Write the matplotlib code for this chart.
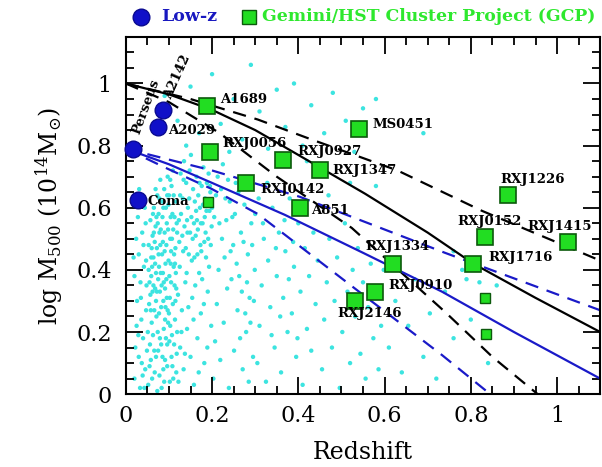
import matplotlib
matplotlib.use("Agg")
import matplotlib.pyplot as plt
from matplotlib.ticker import MultipleLocator

plt.rcParams["font.family"] = "DejaVu Serif"
plt.rcParams["mathtext.fontset"] = "dejavuserif"

# field clusters (cyan cloud), (redshift, log M500)
field_pts = [
    # z ~ 0.02-0.05
    (0.02, 0.05), (0.03, 0.12), (0.025, 0.22), (0.04, 0.18), (0.035, 0.31), (0.045, 0.08),
    (0.02, 0.38), (0.03, 0.45), (0.042, 0.41), (0.038, 0.52), (0.028, 0.57), (0.047, 0.27),
    (0.022, 0.15), (0.033, 0.02), (0.048, 0.35), (0.041, 0.48), (0.026, 0.3), (0.036, 0.24),
    (0.044, 0.6), (0.031, 0.66), (0.018, 0.44), (0.049, 0.14), (0.039, 0.06), (0.046, 0.55),
    (0.024, 0.5), (0.034, 0.36), (0.043, 0.02), (0.029, 0.19), (0.037, 0.1), (0.047, 0.43),
    # z ~ 0.05-0.12 (densest)
    (0.052, 0.03), (0.058, 0.11), (0.063, 0.19), (0.067, 0.07), (0.071, 0.25), (0.075, 0.14),
    (0.079, 0.33), (0.083, 0.02), (0.088, 0.21), (0.092, 0.28), (0.096, 0.09), (0.101, 0.17),
    (0.105, 0.36), (0.11, 0.05), (0.114, 0.24), (0.118, 0.13),
    (0.054, 0.29), (0.059, 0.38), (0.064, 0.44), (0.068, 0.34), (0.072, 0.47), (0.077, 0.41),
    (0.081, 0.53), (0.086, 0.39), (0.09, 0.46), (0.095, 0.55), (0.099, 0.43), (0.103, 0.5),
    (0.108, 0.58), (0.112, 0.45), (0.116, 0.62), (0.119, 0.52),
    (0.056, 0.16), (0.061, 0.05), (0.066, 0.27), (0.07, 0.12), (0.074, 0.2), (0.078, 0.06),
    (0.082, 0.16), (0.087, 0.3), (0.091, 0.11), (0.094, 0.37), (0.098, 0.23), (0.102, 0.31),
    (0.107, 0.19), (0.111, 0.41), (0.115, 0.3), (0.117, 0.07),
    (0.053, 0.48), (0.057, 0.56), (0.062, 0.51), (0.065, 0.6), (0.069, 0.54), (0.073, 0.64),
    (0.076, 0.58), (0.08, 0.69), (0.084, 0.62), (0.089, 0.66), (0.093, 0.6), (0.097, 0.7),
    (0.1, 0.64), (0.106, 0.67), (0.109, 0.72), (0.113, 0.57),
    (0.055, 0.09), (0.06, 0.23), (0.064, 0.35), (0.068, 0.42), (0.073, 0.01), (0.077, 0.26),
    (0.081, 0.39), (0.085, 0.12), (0.089, 0.04), (0.093, 0.18), (0.097, 0.27), (0.102, 0.04),
    (0.106, 0.12), (0.109, 0.29), (0.113, 0.35), (0.119, 0.2),
    (0.051, 0.2), (0.057, 0.32), (0.061, 0.41), (0.066, 0.14), (0.07, 0.3), (0.075, 0.37),
    (0.079, 0.18), (0.084, 0.45), (0.087, 0.08), (0.091, 0.34), (0.096, 0.16), (0.1, 0.26),
    (0.104, 0.42), (0.108, 0.09), (0.112, 0.16), (0.116, 0.39),
    (0.06, 0.47), (0.065, 0.52), (0.07, 0.39), (0.074, 0.55), (0.08, 0.48), (0.085, 0.57),
    (0.09, 0.52), (0.094, 0.48), (0.099, 0.61), (0.104, 0.57), (0.107, 0.5), (0.111, 0.64),
    (0.115, 0.47), (0.118, 0.55),
    (0.053, 0.4), (0.058, 0.27), (0.062, 0.33), (0.067, 0.49), (0.071, 0.57), (0.076, 0.45),
    (0.078, 0.52), (0.082, 0.28), (0.086, 0.49), (0.088, 0.36), (0.092, 0.42), (0.095, 0.31),
    (0.098, 0.53), (0.101, 0.38), (0.105, 0.46), (0.11, 0.53), (0.114, 0.42), (0.117, 0.34),
    (0.063, 0.58), (0.069, 0.66), (0.078, 0.63), (0.087, 0.6), (0.096, 0.64), (0.103, 0.69),
    (0.055, 0.36), (0.059, 0.44), (0.072, 0.33), (0.083, 0.35), (0.091, 0.24), (0.103, 0.22),
    # z ~ 0.12-0.2
    (0.122, 0.04), (0.126, 0.15), (0.13, 0.27), (0.134, 0.08), (0.138, 0.36), (0.142, 0.21),
    (0.146, 0.45), (0.15, 0.12), (0.154, 0.31), (0.158, 0.03), (0.162, 0.51), (0.166, 0.18),
    (0.17, 0.39), (0.174, 0.26), (0.178, 0.55), (0.182, 0.1), (0.186, 0.44), (0.19, 0.33),
    (0.194, 0.59), (0.198, 0.22),
    (0.124, 0.49), (0.128, 0.58), (0.132, 0.63), (0.136, 0.54), (0.14, 0.68), (0.144, 0.6),
    (0.148, 0.72), (0.152, 0.57), (0.156, 0.66), (0.16, 0.62), (0.164, 0.7), (0.168, 0.64),
    (0.172, 0.6), (0.176, 0.67), (0.18, 0.73), (0.184, 0.63), (0.188, 0.68), (0.192, 0.71),
    (0.196, 0.65), (0.2, 0.6),
    (0.121, 0.32), (0.125, 0.41), (0.129, 0.2), (0.133, 0.46), (0.137, 0.13), (0.141, 0.39),
    (0.145, 0.28), (0.149, 0.52), (0.153, 0.43), (0.157, 0.24), (0.161, 0.35), (0.165, 0.56),
    (0.169, 0.07), (0.173, 0.48), (0.177, 0.37), (0.181, 0.29), (0.185, 0.52), (0.189, 0.15),
    (0.193, 0.41), (0.197, 0.48),
    (0.127, 0.71), (0.135, 0.75), (0.143, 0.52), (0.151, 0.77), (0.159, 0.44), (0.167, 0.53),
    (0.175, 0.46), (0.183, 0.57), (0.191, 0.5), (0.199, 0.54),
    (0.123, 0.56), (0.131, 0.51), (0.139, 0.47), (0.147, 0.63), (0.155, 0.5), (0.163, 0.59),
    (0.171, 0.68), (0.179, 0.61), (0.187, 0.59), (0.195, 0.67), (0.126, 0.64), (0.134, 0.69),
    (0.142, 0.56), (0.158, 0.55), (0.166, 0.45), (0.174, 0.55), (0.182, 0.49), (0.19, 0.62),
    # z ~ 0.2-0.3
    (0.203, 0.05), (0.207, 0.17), (0.211, 0.29), (0.215, 0.4), (0.219, 0.11), (0.223, 0.5),
    (0.227, 0.23), (0.231, 0.63), (0.235, 0.34), (0.239, 0.02), (0.243, 0.46), (0.247, 0.57),
    (0.251, 0.14), (0.255, 0.68), (0.259, 0.27), (0.263, 0.38), (0.267, 0.52), (0.271, 0.08),
    (0.275, 0.61), (0.279, 0.2), (0.283, 0.45), (0.287, 0.31), (0.291, 0.55), (0.295, 0.12),
    (0.299, 0.4), (0.205, 0.57), (0.209, 0.64), (0.213, 0.7), (0.217, 0.55), (0.221, 0.66),
    (0.225, 0.74), (0.229, 0.44), (0.233, 0.56), (0.237, 0.69), (0.241, 0.62), (0.245, 0.37),
    (0.249, 0.48), (0.253, 0.58), (0.257, 0.42), (0.261, 0.65), (0.265, 0.18), (0.269, 0.33),
    (0.273, 0.49), (0.277, 0.26), (0.281, 0.36), (0.285, 0.04), (0.289, 0.23), (0.293, 0.48),
    (0.297, 0.3), (0.3, 0.58),
    # z ~ 0.3-0.45
    (0.305, 0.1), (0.31, 0.22), (0.315, 0.35), (0.32, 0.5), (0.325, 0.04), (0.33, 0.43),
    (0.335, 0.28), (0.34, 0.6), (0.345, 0.15), (0.35, 0.38), (0.355, 0.52), (0.36, 0.07),
    (0.365, 0.31), (0.37, 0.46), (0.375, 0.2), (0.38, 0.63), (0.385, 0.26), (0.39, 0.41),
    (0.395, 0.12), (0.4, 0.55), (0.405, 0.33), (0.41, 0.03), (0.415, 0.47), (0.42, 0.21),
    (0.425, 0.38), (0.43, 0.14), (0.435, 0.52), (0.44, 0.29), (0.445, 0.43), (0.308, 0.63),
    (0.318, 0.55), (0.328, 0.68), (0.338, 0.19), (0.348, 0.47), (0.358, 0.25), (0.368, 0.56),
    (0.378, 0.37), (0.388, 0.49), (0.398, 0.18), (0.418, 0.58),
    # z ~ 0.45-0.6
    (0.455, 0.08), (0.46, 0.24), (0.466, 0.36), (0.472, 0.5), (0.478, 0.15), (0.484, 0.3),
    (0.49, 0.44), (0.496, 0.02), (0.502, 0.2), (0.508, 0.55), (0.514, 0.33), (0.52, 0.1),
    (0.526, 0.4), (0.532, 0.25), (0.538, 0.47), (0.544, 0.13), (0.55, 0.36), (0.556, 0.05),
    (0.562, 0.28), (0.568, 0.42), (0.574, 0.18), (0.58, 0.34), (0.586, 0.08), (0.592, 0.22),
    (0.598, 0.4),
    # z ~ 0.6-0.86
    (0.61, 0.15), (0.625, 0.3), (0.64, 0.07), (0.655, 0.22), (0.67, 0.37), (0.69, 0.12),
    (0.705, 0.26), (0.72, 0.05), (0.74, 0.33), (0.76, 0.18), (0.78, 0.4), (0.8, 0.24),
    (0.82, 0.36), (0.76, 0.46), (0.84, 0.1), (0.79, 0.37), (0.86, 0.35),
    # sparse high-mass points
    (0.09, 0.96), (0.12, 0.88), (0.15, 0.99), (0.17, 0.84), (0.2, 1.03), (0.22, 0.87),
    (0.25, 0.95), (0.27, 0.82), (0.29, 1.06), (0.31, 0.91), (0.33, 0.79), (0.35, 0.98),
    (0.37, 0.86), (0.39, 1.0), (0.41, 0.8), (0.43, 0.93), (0.46, 0.84), (0.48, 0.97),
    (0.51, 0.88), (0.53, 0.78), (0.55, 0.92), (0.14, 0.8), (0.24, 0.78), (0.42, 0.75),
    (0.52, 0.68), (0.47, 0.64), (0.58, 0.95), (0.69, 0.84), (0.58, 0.67),
]
field_z = [p[0] for p in field_pts]
field_m = [p[1] for p in field_pts]

# low-z comparison clusters
lowz_names = ["Perseus", "A2142", "A2029", "Coma"]
lowz_z = [0.017, 0.086, 0.075, 0.028]
lowz_m = [0.79, 0.915, 0.86, 0.625]

# GCP clusters
gcp_names = ["A1689", "RXJ0056", "RXJ0927", "RXJ1347", "RXJ0142", "A851", "MS0451",
             "RXJ1226", "RXJ0152", "RXJ1415", "RXJ1716", "RXJ1334", "RXJ0910", "RXJ2146"]
gcp_z = [0.188, 0.195, 0.364, 0.45, 0.279, 0.404, 0.54,
         0.887, 0.833, 1.026, 0.806, 0.62, 0.578, 0.532]
gcp_m = [0.926, 0.78, 0.755, 0.72, 0.68, 0.60, 0.855,
         0.64, 0.507, 0.49, 0.42, 0.42, 0.33, 0.30]
# small squares (no label)
gcp_small_z = [0.19, 0.833, 0.835]
gcp_small_m = [0.62, 0.31, 0.195]

# mass evolution curves
blk_solid_z = [0.0, 0.1, 0.2, 0.3, 0.4, 0.555, 0.7, 0.806, 0.95, 1.1]
blk_solid_m = [1.0, 0.965, 0.915, 0.85, 0.77, 0.645, 0.52, 0.42, 0.31, 0.2]
blk_up_z = [0.0, 0.15, 0.306, 0.43, 0.63, 0.826, 1.1]
blk_up_m = [1.0, 0.95, 0.884, 0.82, 0.72, 0.59, 0.43]
blk_lo_z = [0.0, 0.1, 0.218, 0.35, 0.524, 0.74, 0.85, 0.955]
blk_lo_m = [1.0, 0.94, 0.84, 0.70, 0.535, 0.265, 0.12, 0.0]
blu_solid_z = [0.0, 0.1, 0.2, 0.369, 0.55, 0.733, 0.9, 1.1]
blu_solid_m = [0.79, 0.74, 0.68, 0.577, 0.455, 0.33, 0.2, 0.05]
blu_up_z = [0.0, 0.2, 0.404, 0.74, 1.1]
blu_up_m = [0.79, 0.72, 0.635, 0.455, 0.27]
blu_lo_z = [0.0, 0.09, 0.2, 0.306, 0.369, 0.55, 0.733, 0.845]
blu_lo_m = [0.79, 0.73, 0.66, 0.58, 0.513, 0.32, 0.126, 0.0]

fig = plt.figure(figsize=(6.02, 4.67), dpi=100)
ax = fig.add_axes([0.209, 0.156, 0.788, 0.765])

ax.scatter(field_z, field_m, s=10, color="#3ce4e0", edgecolors="none", zorder=1)

blue = "#1a1ac8"
ax.plot(blk_solid_z, blk_solid_m, color="black", lw=1.6, zorder=2)
ax.plot(blk_up_z, blk_up_m, color="black", lw=1.6, ls=(0, (6, 4)), zorder=2)
ax.plot(blk_lo_z, blk_lo_m, color="black", lw=1.6, ls=(0, (6, 4)), zorder=2)
ax.plot(blu_solid_z, blu_solid_m, color=blue, lw=1.6, zorder=2)
ax.plot(blu_up_z, blu_up_m, color=blue, lw=1.6, ls=(0, (6, 4)), zorder=2)
ax.plot(blu_lo_z, blu_lo_m, color=blue, lw=1.6, ls=(0, (6, 4)), zorder=2)

green = "#22dd22"
ax.plot(gcp_z, gcp_m, "s", ms=11, mfc=green, mec="#0c5a0c", mew=1.2, zorder=4)
ax.plot(gcp_small_z, gcp_small_m, "s", ms=7, mfc=green, mec="#0c5a0c", mew=1.0, zorder=4)
ax.plot(lowz_z, lowz_m, "o", ms=12, mfc="#1010c8", mec="#0a0a90", zorder=4, clip_on=False)

lab = dict(fontsize=9.5, fontweight="bold", color="black", zorder=5)
# Low-z labels
ax.text(0.046, 0.925, "Perseus", rotation=70, ha="center", va="center", **lab)
ax.text(0.12, 1.02, "A2142", rotation=66, ha="center", va="center", **lab)
ax.text(0.098, 0.85, "A2029", ha="left", va="center", **lab)
ax.text(0.05, 0.62, "Coma", ha="left", va="center", **lab)
# GCP labels
gcp_lab_pos = {
    "A1689": (0.218, 0.95), "RXJ0056": (0.225, 0.806), "RXJ0927": (0.397, 0.78),
    "RXJ1347": (0.48, 0.72), "RXJ0142": (0.311, 0.66), "A851": (0.43, 0.59),
    "MS0451": (0.571, 0.868), "RXJ1226": (0.868, 0.69), "RXJ0152": (0.768, 0.555),
    "RXJ1415": (0.93, 0.54), "RXJ1716": (0.84, 0.44), "RXJ1334": (0.555, 0.474),
    "RXJ0910": (0.608, 0.35), "RXJ2146": (0.49, 0.26),
}
for name in gcp_names:
    x, y = gcp_lab_pos[name]
    ax.text(x, y, name, ha="left", va="center", **lab)

ax.set_xlim(0, 1.1)
ax.set_ylim(0, 1.15)
ax.xaxis.set_major_locator(MultipleLocator(0.2))
ax.xaxis.set_minor_locator(MultipleLocator(0.05))
ax.yaxis.set_major_locator(MultipleLocator(0.2))
ax.yaxis.set_minor_locator(MultipleLocator(0.05))
ax.set_xticks([0, 0.2, 0.4, 0.6, 0.8, 1.0], ["0", "0.2", "0.4", "0.6", "0.8", "1"])
ax.set_yticks([0, 0.2, 0.4, 0.6, 0.8, 1.0], ["0", "0.2", "0.4", "0.6", "0.8", "1"])
ax.tick_params(which="both", direction="in", top=True, right=True, width=1.3, labelsize=16)
ax.tick_params(which="major", length=12)
ax.tick_params(which="minor", length=6)
ax.tick_params(axis="x", pad=8)
ax.tick_params(axis="y", pad=10)
for sp in ax.spines.values():
    sp.set_linewidth(1.5)

ax.set_xlabel("Redshift", fontsize=17, labelpad=10)
ax.set_ylabel(r"log M$_{500}$ (10$^{14}$M$_{\odot}$)", fontsize=17, labelpad=8)

# legend along the top
ax.plot([0.234], [0.964], "o", ms=12, mfc="#1010c8", mec="#0a0a90",
        transform=fig.transFigure, clip_on=False)
fig.text(0.268, 0.964, "Low-z", color="#1818c0", fontsize=12.5, fontweight="bold", va="center")
ax.plot([0.414], [0.964], "s", ms=10, mfc=green, mec="#0c5a0c",
        transform=fig.transFigure, clip_on=False)
fig.text(0.436, 0.964, "Gemini/HST Cluster Project (GCP)", color="#2ee82e",
         fontsize=12.4, fontweight="bold", va="center")

fig.savefig("out.png", dpi=100)
